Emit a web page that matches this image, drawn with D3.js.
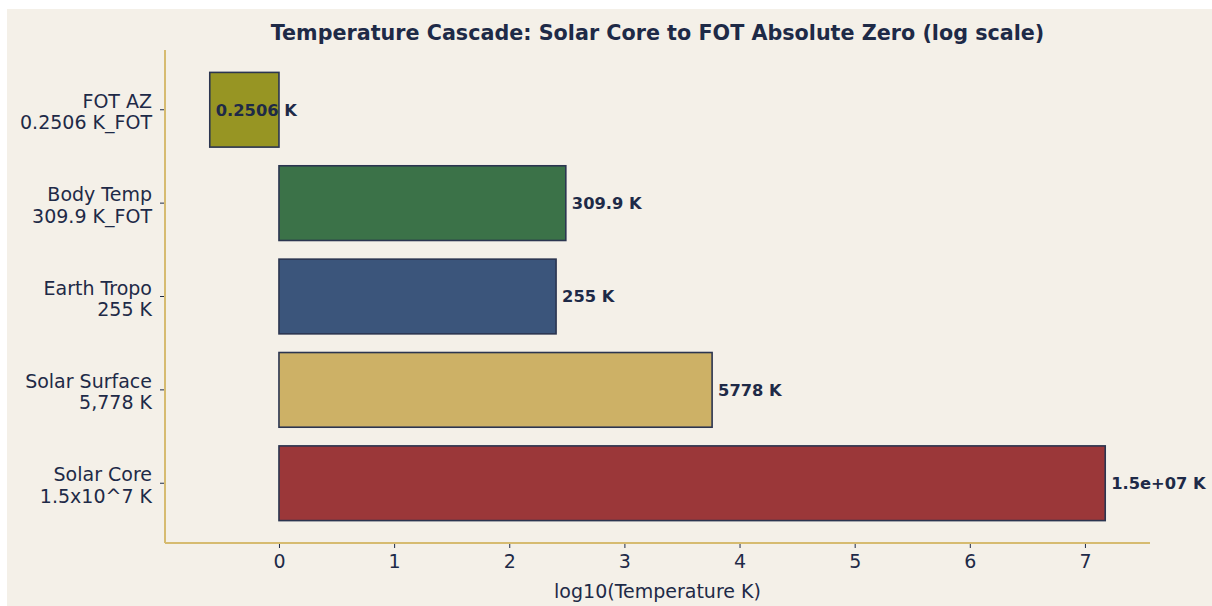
<!DOCTYPE html>
<html><head><meta charset="utf-8">
<script src="https://cdn.jsdelivr.net/npm/d3@7"></script>
<style>html,body{margin:0;padding:0;background:#fff;}svg{display:block;}</style>
</head><body>
<svg id="c" width="1212" height="606"></svg>
<script>
const categories = ["FOT AZ|0.2506 K_FOT", "Body Temp|309.9 K_FOT", "Earth Tropo|255 K", "Solar Surface|5,778 K", "Solar Core|1.5x10^7 K"];
const temperaturesK = [0.2506, 309.9, 255, 5778, 1.5e7];
const valueLabels = ["0.2506 K", "309.9 K", "255 K", "5778 K", "1.5e+07 K"];
const barColors = ["#979523", "#3b7248", "#3b557b", "#cdb166", "#9b3739"];
const xTicks = [0, 1, 2, 3, 4, 5, 6, 7];

const ink = "#1e2a47";
const spine = "#d6bb70";
const font = "DejaVu Sans, sans-serif";
const svg = d3.select("#c");
svg.append("rect").attr("x", 7).attr("y", 9).attr("width", 1205).attr("height", 597).attr("fill", "#f4f0e8");

const L = 165, R = 1150, T = 50, B = 543;
const logs = temperaturesK.map(v => Math.log10(v));
const lo = Math.min(0, d3.min(logs)), hi = Math.max(0, d3.max(logs));
const pad = (hi - lo) * 0.05;
const x = d3.scaleLinear().domain([lo - pad, hi + pad]).range([L, R]);
const n = categories.length;
const y = d3.scaleLinear().domain([-0.4 - 0.24, n - 1 + 0.4 + 0.24]).range([B, T]);
const order = categories.map((c, i) => n - 1 - i);

const g = svg.append("g");
g.selectAll("rect.bar").data(logs).enter().append("rect")
  .attr("x", d => Math.min(x(0), x(d)))
  .attr("width", d => Math.abs(x(d) - x(0)))
  .attr("y", (d, i) => y(order[i] + 0.4))
  .attr("height", (d, i) => y(order[i] - 0.4) - y(order[i] + 0.4))
  .attr("fill", (d, i) => barColors[i])
  .attr("stroke", "#2b3550").attr("stroke-width", 1.6);

g.selectAll("text.val").data(logs).enter().append("text")
  .attr("x", d => x(d) + 6)
  .attr("y", (d, i) => y(order[i]))
  .attr("dy", "0.36em")
  .attr("font-family", font).attr("font-weight", "bold").attr("font-size", 16.3)
  .attr("fill", ink)
  .text((d, i) => valueLabels[i]);

const xa = svg.append("g").attr("transform", `translate(0,${B})`)
  .call(d3.axisBottom(x).tickValues(xTicks).tickFormat(d3.format("d")).tickSize(5).tickPadding(7));
xa.select(".domain").remove();
xa.selectAll(".tick line").attr("stroke", ink).attr("stroke-width", 1);
xa.selectAll(".tick text").attr("font-family", font).attr("font-size", 19).attr("fill", ink);

const ya = svg.append("g");
categories.forEach((c, i) => {
  const yy = y(order[i]);
  ya.append("line").attr("x1", L - 5).attr("x2", L).attr("y1", yy).attr("y2", yy).attr("stroke", ink).attr("stroke-width", 1);
  const parts = c.split("|");
  const t = ya.append("text").attr("text-anchor", "end").attr("font-family", font).attr("font-size", 19).attr("fill", ink);
  parts.forEach((p, k) => {
    t.append("tspan").attr("x", L - 13).attr("y", yy + 2 + (k - (parts.length - 1) / 2) * 21.5).attr("dy", "0.36em").text(p);
  });
});

svg.append("line").attr("x1", L).attr("x2", L).attr("y1", T).attr("y2", B).attr("stroke", spine).attr("stroke-width", 2);
svg.append("line").attr("x1", L).attr("x2", R).attr("y1", B).attr("y2", B).attr("stroke", spine).attr("stroke-width", 2);

svg.append("text").attr("x", (L + R) / 2).attr("y", 598).attr("text-anchor", "middle")
  .attr("font-family", font).attr("font-size", 19).attr("fill", ink).text("log10(Temperature K)");

svg.append("text").attr("x", (L + R) / 2).attr("y", 39.5).attr("text-anchor", "middle")
  .attr("font-family", font).attr("font-weight", "bold").attr("font-size", 20.7).attr("fill", ink)
  .text("Temperature Cascade: Solar Core to FOT Absolute Zero (log scale)");
</script>
</body></html>
